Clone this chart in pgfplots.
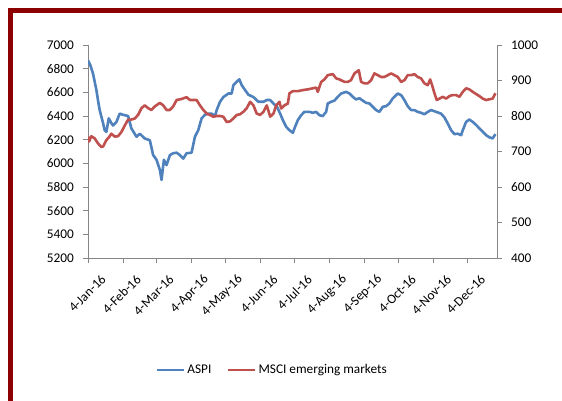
\documentclass[border=0pt]{standalone}
\usepackage{pgfplots}
\pgfplotsset{compat=1.18}
\usepackage{fontspec}
\setmainfont{Carlito}
\definecolor{aspiblue}{RGB}{79,129,189}
\definecolor{msciRed}{RGB}{192,80,77}
\definecolor{axgray}{RGB}{134,134,134}
\definecolor{framered}{RGB}{140,0,0}
\begin{document}
\fontsize{13.3bp}{16bp}\selectfont
\begin{tikzpicture}
\useasboundingbox (0,0) rectangle (562bp,401bp);
\fill[white] (0,0) rectangle (562bp,401bp);
\draw[framered, line width=5bp, line join=miter] (10.8bp,0) -- (10.8bp,390.2bp) -- (562bp,390.2bp);
\pgfplotsset{
  common/.style={
    scale only axis, width=409bp, height=213bp,
    at={(88bp,143bp)}, anchor=south west,
    xmin=0, xmax=361,
    axis line style={-, color=axgray, line width=0.8bp},
    tick style={color=axgray, line width=0.8bp},
    major tick length=5bp, tick align=outside,
    ticklabel style={font=\fontsize{13.3bp}{16bp}\selectfont, text=black},
    /pgf/number format/assume math mode=true,
    /pgf/number format/1000 sep={},
    scaled y ticks=false,
  }
}
\begin{axis}[common,
  axis y line*=left, axis x line*=bottom,
  ymin=5200, ymax=7000, ytick distance=200,
  xtick={0,31,60,91,121,152,182,213,244,274,305,335},
  xticklabels={4-Jan-16,4-Feb-16,4-Mar-16,4-Apr-16,4-May-16,4-Jun-16,4-Jul-16,4-Aug-16,4-Sep-16,4-Oct-16,4-Nov-16,4-Dec-16},
  xticklabel style={rotate=45, anchor=east, inner sep=1bp, xshift=2bp, yshift=-21bp},
  yticklabel style={inner sep=2bp, xshift=-7bp},
]
\addplot[aspiblue, line width=2.6bp, line join=round] coordinates {
(0,6870) (2,6830) (4.4,6760) (7.4,6620) (8.8,6535) (10.3,6450) (13.3,6340) (14.7,6280)
(16.2,6265) (18.3,6380) (20.6,6340) (22.1,6320) (25.1,6350) (28,6420) (31,6410) (35.4,6400)
(38.3,6295) (42.8,6225) (45.7,6250) (50.1,6210) (54.6,6195) (57.5,6070) (60.5,6030) (63.4,5945)
(64.9,5860) (67,6030) (69.3,5985) (72.3,6070) (75.2,6085) (78.2,6090) (81.1,6070) (84.1,6040)
(87,6085) (91.4,6090) (94.4,6225) (97.3,6280) (100.3,6380) (103.2,6410) (106.2,6420) (109.1,6420)
(112.1,6400) (113.6,6450) (116.5,6520) (119.5,6560) (123.9,6590) (126.8,6590) (128.3,6660) (131.3,6690)
(133.6,6710) (135.7,6660) (138.6,6620) (141.6,6580) (146,6560) (150.4,6520) (154.9,6520) (157.8,6535)
(160.8,6535) (163.7,6505) (166.7,6480) (169.6,6420) (172,6365) (175,6308) (177.8,6280) (180.8,6258)
(182.2,6295) (185.2,6365) (188.1,6406) (191,6435) (195.5,6435) (198.4,6427) (201.4,6435) (204.3,6406)
(207.2,6400) (210.2,6435) (211.6,6506) (214.6,6520) (217.5,6530) (220.5,6562) (223.4,6590) (227.8,6604)
(230.8,6590) (233.7,6562) (236.6,6540) (239.6,6550) (242.5,6530) (245.5,6511) (248.4,6506) (251.4,6478)
(254.3,6450) (257.2,6435) (260.2,6478) (263.1,6483) (266,6506) (269,6549) (273.4,6590) (276.4,6576)
(279.3,6534) (282.2,6483) (285.2,6450) (288.1,6450) (291,6435) (294,6427) (296.9,6415) (299.9,6435)
(302.8,6450) (305.8,6440) (308.7,6430) (311.6,6420) (314.6,6388) (317.5,6337) (320.5,6280) (323.4,6247)
(326.4,6250) (329.3,6238) (330.8,6280) (333.7,6350) (336.6,6370) (339.6,6350) (342.5,6325) (345.5,6295)
(348.4,6267) (351.4,6238) (354.3,6220) (357.2,6211) (359.6,6247)
};
\end{axis}
\begin{axis}[common,
  axis y line*=right, axis x line=none,
  ymin=400, ymax=1000, ytick distance=100,
  yticklabel style={inner sep=2bp, xshift=7bp},
  legend style={at={(0.451,-0.526)}, anchor=center, draw=none, fill=none,
    legend columns=2, font=\fontsize{13.3bp}{16bp}\selectfont,
    /tikz/every even column/.append style={column sep=14bp},
    inner sep=0pt},
  legend image code/.code={\draw[#1, line width=2.2bp] (0bp,0bp) -- (27bp,0bp);},
]
\addlegendimage{aspiblue}
\addlegendentry{ASPI}
\addplot[msciRed, line width=2.6bp, line join=round] coordinates {
(0,742) (0.9,728) (2.9,743) (5.9,737) (8.8,723) (11.8,713) (13.3,714) (16.2,732)
(19.2,743) (20.6,750) (23.6,742) (26.5,743) (29.5,755) (32.4,773) (35.4,790) (38.3,790)
(41.3,793) (44.2,803) (47.2,822) (50.1,830) (53.1,822) (56,817) (59,827) (63.4,837)
(66.4,830) (69.3,817) (72.3,817) (75.2,827) (78.2,845) (82.6,848) (87,853) (90,845)
(92.9,845) (95.9,845) (98.8,830) (101.8,817) (104.7,807) (107.7,803) (110.6,798) (113.6,800)
(116.5,800) (119.5,798) (122.4,783) (125.4,785) (128.3,793) (131.3,803) (134.2,805) (137.2,812)
(140.1,822) (143.1,840) (146,830) (148.9,807) (151.9,803) (154.9,812) (157.8,830) (160.8,798)
(163.7,807) (166.1,830) (169,840) (170.5,821) (173.4,830) (176.4,835) (177.8,864) (180.8,870)
(185.2,870) (189.6,873) (194,875) (198.4,878) (201.4,880) (202.8,868) (205.8,896) (208.7,903)
(211.6,915) (216.1,918) (219,906) (222,903) (226.4,896) (229.3,896) (232.2,901) (235.2,920)
(239,929) (241.1,896) (244,892) (246.9,892) (249.9,901) (252.8,920) (255.8,915) (258.7,910)
(261.6,910) (264.6,915) (267.5,920) (270.5,915) (273.4,910) (276.4,896) (279.3,901) (282.2,915)
(285.2,915) (288.1,918) (291,910) (294,906) (296.9,892) (299.9,887) (302,903) (303.7,887)
(305.8,864) (307.8,845) (310.2,849) (313.1,854) (316.1,849) (319,856) (321.9,859) (324.9,859)
(327.8,854) (330.8,868) (333.7,878) (336.6,875) (339.6,868) (342.5,862) (345.5,856) (348.4,849)
(351.4,845) (354.3,847) (357.2,849) (359.6,864)
};
\addlegendentry{MSCI emerging markets}
\end{axis}
\end{tikzpicture}
\end{document}
